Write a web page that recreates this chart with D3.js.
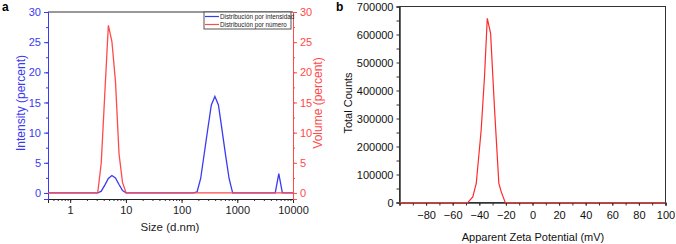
<!DOCTYPE html>
<html>
<head>
<meta charset="utf-8">
<script src="https://cdn.jsdelivr.net/npm/d3@7"></script>
<style>
  body { margin: 0; background: #fff; }
  svg { display: block; font-family: "Liberation Sans", Arial, sans-serif; }
</style>
</head>
<body>
<svg width="676" height="244"></svg>
<script>
// panel a: DLS size distribution (x in nm)
const sizeIntensity = [0.4, 3.122, 3.615, 4.187, 4.849, 5.615, 6.503, 7.531, 8.721, 10.1, 164.2, 190.1, 220.2, 255.0, 295.3, 342.0, 396.1, 458.7, 531.2, 615.1, 712.4, 825.0, 4801, 5560, 6439, 10000];
const intensity = [0, 0, 0.3, 1.3, 2.4, 2.9, 2.5, 1.4, 0.4, 0, 0, 0.2, 2.4, 6.5, 10.6, 14.6, 16.0, 14.6, 10.5, 6.3, 2.4, 0, 0, 3.2, 0, 0];
const sizeNumber = [0.4, 3.122, 3.615, 4.187, 4.849, 5.615, 6.503, 7.531, 8.721, 10.1, 10000];
const number = [0, 0, 5.0, 16.5, 27.8, 25.1, 18.5, 6.5, 1.7, 0, 0];
const sizeTicks = [1, 10, 100, 1000, 10000];
const percentTicks = [0, 5, 10, 15, 20, 25, 30];
const legendLabels = ['Distribución por intensidad', 'Distribución por número'];

// panel b: zeta potential
const zeta = [-100, -48.6, -44.9, -42.3, -38.6, -36.1, -34.0, -31.5, -28.5, -25.3, -23.5, -20.5, 100];
const counts = [0, 0, 20000, 68000, 258000, 449000, 658000, 604000, 330000, 68000, 38000, 0, 0];
const zetaTicks = [-80, -60, -40, -20, 0, 20, 40, 60, 80, 100];
const countTicks = [0, 100000, 200000, 300000, 400000, 500000, 600000, 700000];

const blue = '#3a3af2';
const red = '#ff4a4a';
const dark = '#333';

const svg = d3.select('svg');

// ---------- panel a ----------
const ga = svg.append('g');
const xa = d3.scaleLog().domain([0.4, 10000]).range([48, 293]);
const ya = d3.scaleLinear().domain([-1, 30]).range([199, 12]);

function styleAxis(sel, color, fs) {
  sel.select('.domain').attr('stroke', color);
  sel.selectAll('.tick line').attr('stroke', color);
  sel.selectAll('.tick text').attr('fill', color).attr('font-size', fs);
}

// frame top line
ga.append('line').attr('x1', 48).attr('x2', 293).attr('y1', 12).attr('y2', 12)
  .attr('stroke', dark);

// minor log ticks
const minorSize = xa.ticks().filter(d => d >= 0.4 && d <= 10000);
ga.append('g').attr('transform', 'translate(0,199)')
  .call(d3.axisBottom(xa).tickValues(minorSize).tickSize(2).tickFormat(''))
  .call(s => styleAxis(s, dark, 0));
ga.append('g').attr('transform', 'translate(0,199)')
  .call(d3.axisBottom(xa).tickValues(sizeTicks).tickSize(4).tickPadding(3).tickFormat(d3.format('d')))
  .call(s => styleAxis(s, '#222', 11));

ga.append('g').attr('transform', 'translate(48,0)')
  .call(d3.axisLeft(ya).tickValues(d3.range(0, 30, 2.5)).tickSize(2).tickFormat(''))
  .call(s => styleAxis(s, blue, 0));
ga.append('g').attr('transform', 'translate(48,0)')
  .call(d3.axisLeft(ya).tickValues(percentTicks).tickSize(4).tickPadding(3))
  .call(s => styleAxis(s, blue, 11));

ga.append('g').attr('transform', 'translate(293,0)')
  .call(d3.axisRight(ya).tickValues(d3.range(0, 30, 2.5)).tickSize(2).tickFormat(''))
  .call(s => styleAxis(s, red, 0));
ga.append('g').attr('transform', 'translate(293,0)')
  .call(d3.axisRight(ya).tickValues(percentTicks).tickSize(4).tickPadding(3))
  .call(s => styleAxis(s, red, 11));

const lineA = (xs, ys) => d3.line().x((d, i) => xa(xs[i])).y(d => ya(d))(ys);
ga.append('path').attr('d', lineA(sizeIntensity, intensity))
  .attr('fill', 'none').attr('stroke', blue).attr('stroke-width', 1.3);
ga.append('path').attr('d', lineA(sizeNumber, number))
  .attr('fill', 'none').attr('stroke', red).attr('stroke-width', 1.3);

ga.append('text').attr('transform', 'translate(25,103) rotate(-90)')
  .attr('text-anchor', 'middle').attr('fill', blue).attr('font-size', 12)
  .text('Intensity (percent)');
ga.append('text').attr('transform', 'translate(322,103) rotate(-90)')
  .attr('text-anchor', 'middle').attr('fill', red).attr('font-size', 12)
  .text('Volume (percent)');
ga.append('text').attr('x', 170).attr('y', 231)
  .attr('text-anchor', 'middle').attr('fill', '#222').attr('font-size', 11.5)
  .text('Size (d.nm)');

// legend
const lg = ga.append('g');
lg.append('rect').attr('x', 204).attr('y', 12).attr('width', 87).attr('height', 17)
  .attr('fill', '#fff').attr('stroke', '#555');
legendLabels.forEach((t, i) => {
  const yy = 16.5 + i * 8;
  lg.append('line').attr('x1', 205).attr('x2', 219).attr('y1', yy).attr('y2', yy)
    .attr('stroke', i ? red : blue).attr('stroke-width', 1.2);
  lg.append('text').attr('x', 220).attr('y', yy + 2.3).attr('font-size', 6.3)
    .attr('fill', '#222').text(t);
});

svg.append('text').attr('x', 2).attr('y', 11).attr('font-size', 12)
  .attr('font-weight', 'bold').text('a');

// ---------- panel b ----------
const gb = svg.append('g');
const xb = d3.scaleLinear().domain([-100, 100]).range([399.5, 665.5]);
const yb = d3.scaleLinear().domain([0, 700000]).range([202.5, 6.5]);

gb.append('rect').attr('x', 399.5).attr('y', 6.5).attr('width', 266).attr('height', 196)
  .attr('fill', 'none').attr('stroke', dark);

gb.append('g').attr('transform', 'translate(0,202.5)')
  .call(d3.axisBottom(xb).tickValues(d3.range(-100, 101, 10)).tickSize(3).tickFormat(''))
  .call(s => styleAxis(s, dark, 0));
gb.append('g').attr('transform', 'translate(0,202.5)')
  .call(d3.axisBottom(xb).tickValues(zetaTicks).tickSize(3).tickPadding(6))
  .call(s => styleAxis(s, dark, 11))
  .call(s => s.selectAll('.tick text').attr('fill', '#111'));

gb.append('g').attr('transform', 'translate(399.5,0)')
  .call(d3.axisLeft(yb).tickValues(d3.range(50000, 700000, 100000)).tickSize(3).tickFormat(''))
  .call(s => styleAxis(s, dark, 0));
gb.append('g').attr('transform', 'translate(399.5,0)')
  .call(d3.axisLeft(yb).tickValues(countTicks).tickSize(3).tickPadding(3).tickFormat(d3.format('d')))
  .call(s => styleAxis(s, dark, 11))
  .call(s => s.selectAll('.tick text').attr('fill', '#111'));

gb.append('path')
  .attr('d', d3.line().x((d, i) => xb(zeta[i])).y(d => yb(d))(counts))
  .attr('fill', 'none').attr('stroke', '#ff2a2a').attr('stroke-width', 1.2);

gb.append('text').attr('transform', 'translate(352,103) rotate(-90)')
  .attr('text-anchor', 'middle').attr('font-size', 11).attr('fill', '#111')
  .text('Total Counts');
gb.append('text').attr('x', 533).attr('y', 241)
  .attr('text-anchor', 'middle').attr('font-size', 11).attr('fill', '#111')
  .text('Apparent Zeta Potential (mV)');

svg.append('text').attr('x', 336).attr('y', 11).attr('font-size', 12)
  .attr('font-weight', 'bold').text('b');
</script>
</body>
</html>
